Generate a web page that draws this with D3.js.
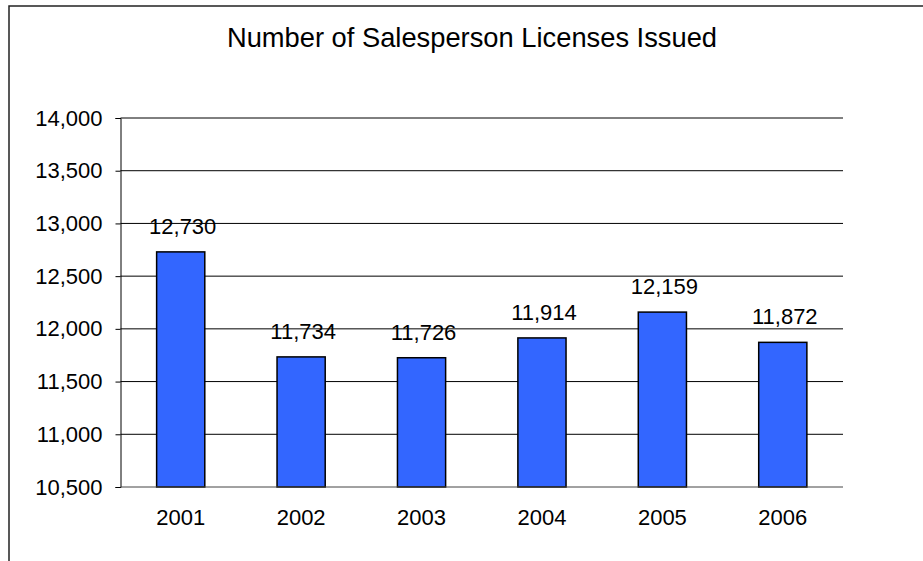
<!DOCTYPE html>
<html>
<head>
<meta charset="utf-8">
<script src="https://cdn.jsdelivr.net/npm/d3@7"></script>
<style>
  body { margin: 0; background: #fff; }
  text { font-family: "Liberation Sans", Arial, sans-serif; fill: #000; }
</style>
</head>
<body>
<script>
// chart data
var years = ["2001", "2002", "2003", "2004", "2005", "2006"];
var licenses = [12730, 11734, 11726, 11914, 12159, 11872];
var yTicks = [10500, 11000, 11500, 12000, 12500, 13000, 13500, 14000];

var w = 923, h = 561;
var plotLeft = 120.5, plotRight = 843, plotTop = 118, plotBottom = 487;

var svg = d3.select("body").append("svg").attr("width", w).attr("height", h);

// outer chart border (runs off the right and bottom edges)
svg.append("rect")
    .attr("x", 9).attr("y", 6)
    .attr("width", 930).attr("height", 570)
    .attr("fill", "none")
    .attr("stroke", "#222")
    .attr("stroke-width", 1.5);

svg.append("text")
    .attr("x", 472).attr("y", 47)
    .attr("text-anchor", "middle")
    .style("font-size", "27.3px")
    .text("Number of Salesperson Licenses Issued");

var x = d3.scaleBand().domain(years).range([plotLeft, plotRight]).padding(0);
var y = d3.scaleLinear().domain([10500, 14000]).range([plotBottom, plotTop]);
var barW = x.bandwidth() * 0.4;

// gridlines
svg.append("g").selectAll("line")
    .data(yTicks.filter(d => d > 10500))
    .enter().append("line")
    .attr("x1", plotLeft).attr("x2", plotRight)
    .attr("y1", d => y(d)).attr("y2", d => y(d))
    .attr("stroke", "#000").attr("stroke-width", 1);

// y axis
var yAxis = d3.axisLeft(y).tickValues(yTicks).tickSize(5).tickPadding(13)
    .tickFormat(d3.format(","));
var yArea = svg.append("g").attr("transform", "translate(" + plotLeft + ",0)").call(yAxis);
yArea.select(".domain").attr("stroke", "#000");
yArea.selectAll(".tick line").attr("stroke", "#000");
yArea.selectAll("text").style("font-size", "22px").style("font-family", "Liberation Sans, Arial, sans-serif");

// bars
svg.append("g").selectAll("rect")
    .data(licenses)
    .enter().append("rect")
    .attr("x", (d, i) => x(years[i]) + (x.bandwidth() - barW) / 2)
    .attr("y", d => y(d))
    .attr("width", barW)
    .attr("height", d => plotBottom - y(d))
    .attr("fill", "#3366FF")
    .attr("stroke", "#000")
    .attr("stroke-width", 1.5);

// x axis
var xAxis = d3.axisBottom(x).tickSize(0).tickPadding(22);
var xArea = svg.append("g").attr("transform", "translate(0," + plotBottom + ")").call(xAxis);
xArea.select(".domain").attr("stroke", "#444").attr("d", "M" + plotLeft + ",0H" + plotRight);
xArea.selectAll("text").style("font-size", "22px").style("font-family", "Liberation Sans, Arial, sans-serif");

// value labels
svg.append("g").selectAll("text")
    .data(licenses)
    .enter().append("text")
    .attr("x", (d, i) => x(years[i]) + x.bandwidth() / 2 + 2)
    .attr("y", d => y(d) - 18)
    .attr("text-anchor", "middle")
    .style("font-size", "22px")
    .text(d => d3.format(",")(d));
</script>
</body>
</html>
